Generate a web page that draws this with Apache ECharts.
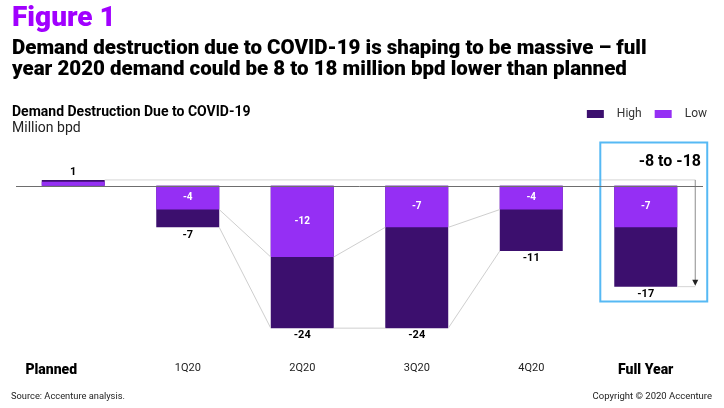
<!DOCTYPE html>
<html>
<head>
<meta charset="utf-8">
<script src="https://cdn.jsdelivr.net/npm/echarts@6/dist/echarts.min.js"></script>
<style>
html,body{margin:0;padding:0;background:#fff;}
#chart{width:724px;height:408px;}
</style>
</head>
<body>
<div id="chart"></div>
<script>
const categories = ['Planned', '1Q20', '2Q20', '3Q20', '4Q20', 'Full Year'];
const highValues = [1, -7, -24, -24, -11, -17];
const lowValues = [0.7, -4, -12, -7, -4, -7];
const lowLabelShown = [false, true, true, true, true, true];
const boldCategories = ['Planned', 'Full Year'];
const rangeText = '-8 to -18';
const boxRange = [7.3, -19.5];

const HIGH_COLOR = '#3c0f6e';
const LOW_COLOR = '#952ff4';
const FONT = 'Roboto, "Noto Sans", sans-serif';

const chart = echarts.init(document.getElementById('chart'), null, {renderer: 'canvas'});

const highData = highValues.map((v, i) => ({
  value: v,
  label: {position: v >= 0 ? 'top' : 'bottom'}
}));
const lowData = lowValues.map((v, i) => ({
  value: v,
  label: {show: lowLabelShown[i]}
}));

function renderAnnotations(params, api) {
  const band = api.size([1, 0])[0];
  const bw = band * 0.55;
  const X = i => api.coord([i, 0])[0];
  const Y = v => api.coord([0, v])[1];
  const children = [];
  const lineStyle = {stroke: '#cfcfcf', lineWidth: 1};
  for (let i = 1; i <= 3; i++) {
    [lowValues, highValues].forEach(arr => {
      children.push({
        type: 'line',
        shape: {x1: X(i) + bw / 2, y1: Y(arr[i]), x2: X(i + 1) - bw / 2, y2: Y(arr[i + 1])},
        style: lineStyle
      });
    });
  }
  const last = categories.length - 1;
  const ax = X(last) + bw / 2 + 18;
  children.push({
    type: 'line',
    shape: {x1: X(0) + bw / 2, y1: Y(highValues[0]), x2: ax, y2: Y(highValues[0])},
    style: {stroke: '#d6d6d6', lineWidth: 1}
  });
  children.push({
    type: 'line',
    shape: {x1: X(last) + bw / 2, y1: Y(highValues[last]), x2: ax, y2: Y(highValues[last])},
    style: {stroke: '#d6d6d6', lineWidth: 1}
  });
  const tipY = Y(highValues[last]) - 1;
  children.push({
    type: 'line',
    shape: {x1: ax, y1: Y(highValues[0]), x2: ax, y2: tipY - 5},
    style: {stroke: '#8c8c8c', lineWidth: 1}
  });
  children.push({
    type: 'polygon',
    shape: {points: [[ax - 3, tipY - 6], [ax + 3, tipY - 6], [ax, tipY]]},
    style: {fill: '#222'}
  });
  const bx1 = X(last) - band * 0.397;
  const bx2 = X(last) + band * 0.537;
  const by1 = Y(boxRange[0]);
  const by2 = Y(boxRange[1]);
  children.push({
    type: 'rect',
    shape: {x: bx1, y: by1, width: bx2 - bx1, height: by2 - by1},
    style: {fill: 'none', stroke: '#56b9f4', lineWidth: 2}
  });
  return {type: 'group', children: children};
}

const option = {
  backgroundColor: '#ffffff',
  animation: false,
  title: [
    {text: 'Figure 1', left: 12, top: 5, padding: 0,
     textStyle: {fontFamily: FONT, fontSize: 28, fontWeight: 900, color: '#a100ff'}},
    {text: 'Demand destruction due to COVID-19 is shaping to be massive – full\nyear 2020 demand could be 8 to 18 million bpd lower than planned',
     left: 12, top: 39, padding: 0,
     textStyle: {fontFamily: FONT, fontSize: 20.5, fontWeight: 900, color: '#000', lineHeight: 20.5}},
    {text: 'Demand Destruction Due to COVID-19', left: 12, top: 105, padding: 0,
     textStyle: {fontFamily: FONT, fontSize: 14, fontWeight: 'bold', color: '#000'}},
    {text: 'Million bpd', left: 12, top: 121, padding: 0,
     textStyle: {fontFamily: FONT, fontSize: 14, fontWeight: 'normal', color: '#222'}},
    {text: rangeText, right: 23, top: 154, padding: 0,
     textStyle: {fontFamily: FONT, fontSize: 16, fontWeight: 'bold', color: '#000'}},
    {text: 'Source: Accenture analysis.', left: 11, top: 392, padding: 0,
     textStyle: {fontFamily: FONT, fontSize: 9.3, fontWeight: 'normal', color: '#222'}},
    {text: 'Copyright © 2020 Accenture', right: 12, top: 392, padding: 0,
     textStyle: {fontFamily: FONT, fontSize: 9.5, fontWeight: 'normal', color: '#222'}}
  ],
  legend: {
    data: ['High', 'Low'],
    right: 17, top: 108, padding: 0,
    itemWidth: 17, itemHeight: 8, itemGap: 13,
    icon: 'rect',
    textStyle: {fontFamily: FONT, fontSize: 12, color: '#333', padding: [0, 0, 0, 8]}
  },
  grid: {left: 16, right: 21, top: 174, bottom: 68, containLabel: false},
  xAxis: {
    type: 'category',
    data: categories,
    axisLine: {show: false},
    axisTick: {show: false},
    axisLabel: {
      margin: 23,
      interval: 0,
      fontFamily: FONT,
      fontSize: 11,
      color: '#222',
      formatter: function (v, i) {
        if (i === 0) return '{p|' + v + '}';
        if (boldCategories.indexOf(v) >= 0) return '{b|' + v + '}';
        return v;
      },
      rich: {
        p: {fontFamily: FONT, fontSize: 14, fontWeight: 900, color: '#000', padding: [0, 44, 0, 0]},
        b: {fontFamily: FONT, fontSize: 14, fontWeight: 900, color: '#000'}
      }
    }
  },
  yAxis: {
    type: 'value',
    min: -26, max: 2,
    show: false,
    splitLine: {show: false}
  },
  series: [
    {
      name: 'High',
      type: 'bar',
      data: highData,
      barWidth: '55%',
      barGap: '-100%',
      itemStyle: {color: HIGH_COLOR},
      label: {
        show: true,
        distance: 2,
        fontFamily: FONT,
        fontSize: 11,
        fontWeight: 'bold',
        color: '#000'
      },
      markLine: {
        silent: true,
        symbol: 'none',
        label: {show: false},
        lineStyle: {color: '#6e6e6e', width: 1, type: 'solid'},
        data: [{yAxis: 0}]
      }
    },
    {
      name: 'Low',
      type: 'bar',
      data: lowData,
      barWidth: '55%',
      barGap: '-100%',
      itemStyle: {color: LOW_COLOR},
      label: {
        show: true,
        position: 'inside',
        fontFamily: FONT,
        fontSize: 10,
        fontWeight: 'bold',
        color: '#fff'
      }
    },
    {
      name: 'annotations',
      type: 'custom',
      coordinateSystem: 'cartesian2d',
      silent: true,
      clip: false,
      z: 3,
      data: [[0, 0]],
      renderItem: renderAnnotations
    }
  ]
};
chart.setOption(option);
</script>
</body>
</html>
